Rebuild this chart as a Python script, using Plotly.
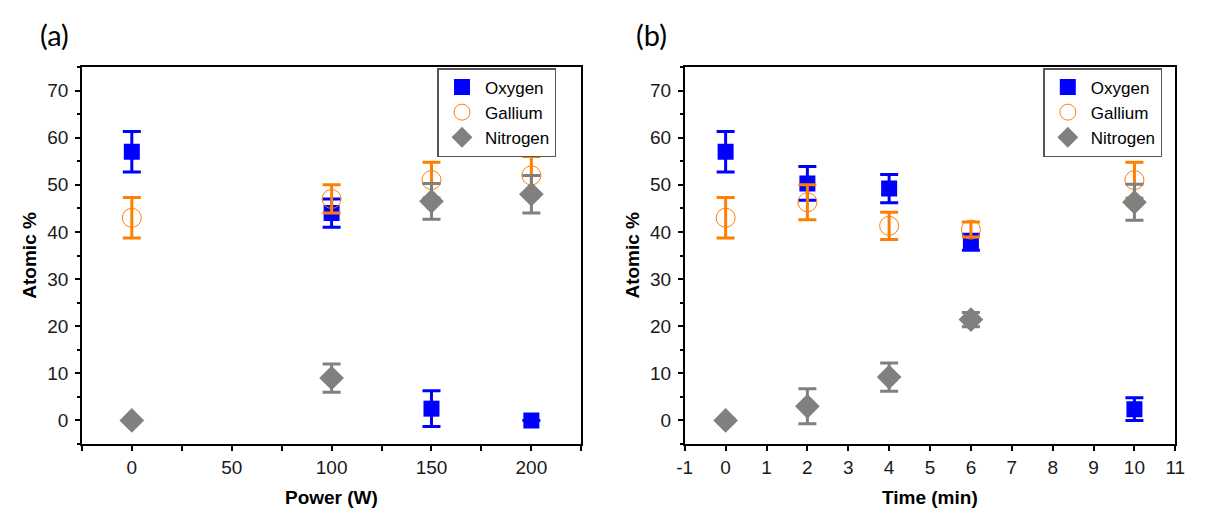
import plotly.graph_objects as go

# ---- data ----
power = [0, 100, 150, 200]
oxy_a = [57.0, 44.0, 2.5, 0.0]
oxy_a_err = [4.3, 3.0, 3.8, None]
ga_a = [43.0, 47.0, 51.0, 52.0]
ga_a_err = [4.3, 3.0, 3.8, 4.0]
ni_a = [0.0, 9.0, 46.5, 48.0]
ni_a_err = [None, 3.0, 3.8, 4.0]

time = [0, 2, 4, 6, 10]
oxy_b = [57.0, 50.3, 49.2, 37.8, 2.4]
oxy_b_err = [4.3, 3.6, 3.0, 1.7, 2.4]
ga_b = [43.0, 46.3, 41.3, 40.5, 51.0]
ga_b_err = [4.3, 3.7, 2.9, 1.6, 3.8]
ni_b = [0.0, 3.0, 9.2, 21.4, 46.3]
ni_b_err = [None, 3.7, 3.0, 1.5, 3.8]

power_ticks = [0, 50, 100, 150, 200]
time_ticks = list(range(-1, 12))
time_ticklabels = [str(t) for t in time_ticks]
y_ticks = [0, 10, 20, 30, 40, 50, 60, 70]

names = ["Oxygen", "Gallium", "Nitrogen"]
colors = ["#0000FF", "#FF7F00", "#808080"]

W, H = 1206, 515
FONT = "Arial, Liberation Sans, sans-serif"

fig = go.Figure()

def add_series(x, y, err, name, color, symbol, size, lw, xa, ya, legend):
    fig.add_trace(go.Scatter(
        x=x, y=y, mode="markers", name=name,
        xaxis=xa, yaxis=ya, legend=legend,
        marker=dict(symbol=symbol, size=size, color=color,
                    line=dict(color=color, width=lw)),
        error_y=dict(type="data", array=err, visible=True, color=color,
                     thickness=3, width=9),
    ))

sets_a = [(oxy_a, oxy_a_err), (ga_a, ga_a_err), (ni_a, ni_a_err)]
sets_b = [(oxy_b, oxy_b_err), (ga_b, ga_b_err), (ni_b, ni_b_err)]
styles = [("square", 16, 0), ("circle-open", 19, 1), ("diamond", 19, 0)]

for (y, e), n, c, (sym, sz, lw) in zip(sets_a, names, colors, styles):
    add_series(power, y, e, n, c, sym, sz, lw, "x", "y", "legend")
for (y, e), n, c, (sym, sz, lw) in zip(sets_b, names, colors, styles):
    add_series(time, y, e, n, c, sym, sz, lw, "x2", "y2", "legend2")

# plot area pixels
ax = (75, 582)
bx = (687, 1185)
ytop, ybot = 67, 444
ydom = [1 - ybot / H, 1 - ytop / H]

base = dict(
    showline=True, linecolor="black", linewidth=1.5, mirror=True,
    ticks="outside", ticklen=5, tickwidth=1.5, tickcolor="black",
    showgrid=False, zeroline=False,
    tickfont=dict(family=FONT, size=19, color="#1a1a1a"),
)
yminor = dict(ticks="outside", ticklen=3, tickwidth=1.5, tickcolor="black", dtick=5, tick0=5)
leg = dict(yanchor="top", xanchor="left", y=1 - 68 / H,
           bordercolor="#555", borderwidth=1.5, bgcolor="white",
           font=dict(family=FONT, size=17, color="black"), itemwidth=36)

fig.update_layout(
    width=W, height=H,
    margin=dict(l=0, r=0, t=0, b=0),
    paper_bgcolor="white", plot_bgcolor="white",
    xaxis=dict(domain=[ax[0] / W, ax[1] / W], range=[-25, 225],
               tickmode="array", tickvals=power_ticks, anchor="y",
               minor=dict(ticks="outside", ticklen=5, tickwidth=1.5, tickcolor="black",
                          tickvals=[-25, 25, 75, 125, 175, 225]),
               **base),
    yaxis=dict(domain=ydom, range=[-5, 75], tickmode="array", tickvals=y_ticks,
               anchor="x", ticklabelstandoff=3, minor=yminor, **base),
    xaxis2=dict(domain=[bx[0] / W, bx[1] / W], range=[-1, 11],
                tickmode="array", tickvals=time_ticks, ticktext=time_ticklabels,
                anchor="y2", **base),
    yaxis2=dict(domain=ydom, range=[-5, 75], tickmode="array", tickvals=y_ticks,
                anchor="x2", ticklabelstandoff=3, minor=yminor, **base),
    legend=dict(x=436 / W, **leg),
    legend2=dict(x=1051 / W, **leg),
)

ann = []
for cx, txt in [((ax[0] + ax[1]) / 2, "Power (W)"), ((bx[0] + bx[1]) / 2, "Time (min)")]:
    ann.append(dict(x=cx / W, y=1 - 497 / H, xref="paper", yref="paper", text="<b>%s</b>" % txt,
                    showarrow=False, xanchor="center", yanchor="middle",
                    font=dict(family=FONT, size=19, color="black")))
for cx in [21, 633]:
    ann.append(dict(x=cx / W, y=1 - 255 / H, xref="paper", yref="paper", text="<b>Atomic %</b>",
                    showarrow=False, textangle=-90, xanchor="center", yanchor="middle",
                    font=dict(family=FONT, size=19, color="black")))
for cx, txt in [(47, "(a)"), (653, "(b)")]:
    ann.append(dict(x=cx / W, y=1 - 35 / H, xref="paper", yref="paper", text=txt,
                    showarrow=False, xanchor="center", yanchor="middle",
                    font=dict(family="Lato, sans-serif", size=29, color="black")))
fig.update_layout(annotations=ann)

fig.write_html("out.html", config={"displayModeBar": False},
               post_script="document.body.style.margin='0';")
